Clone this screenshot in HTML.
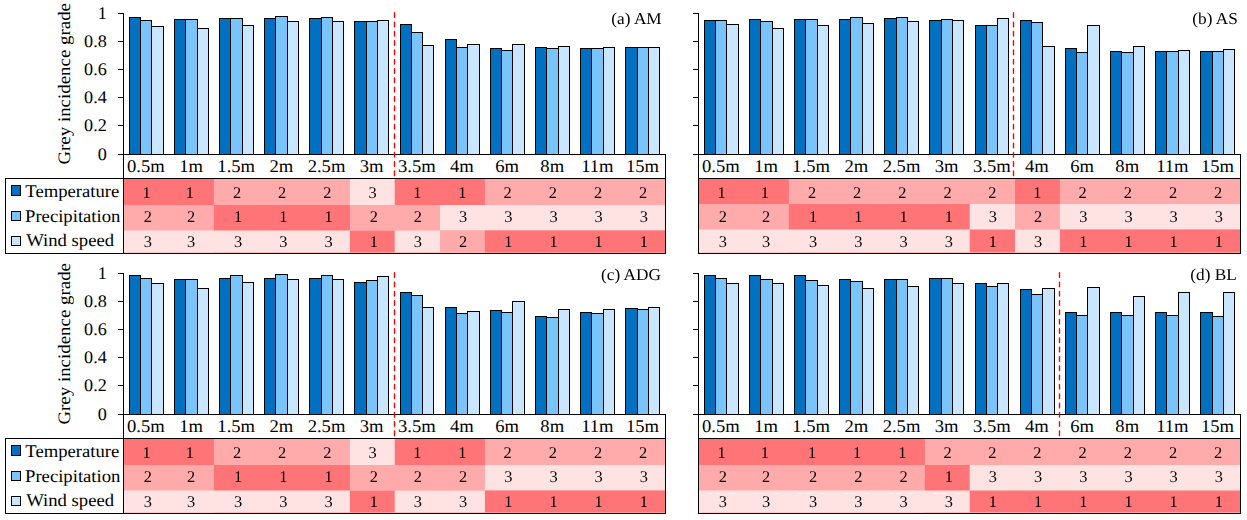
<!DOCTYPE html>
<html lang="en"><head><meta charset="utf-8"><title>Grey incidence grade</title>
<style>html,body{margin:0;padding:0;background:#fff}body{width:1247px;height:520px;overflow:hidden}svg{display:block}</style>
</head><body>
<svg width="1247" height="520" viewBox="0 0 1247 520">
<rect width="1247" height="520" fill="#fff"/>
<g transform="translate(0,0)">
<g>
<rect x="124" y="179" width="541.00" height="73.50" fill="#FF7577"/>
<rect x="213.9" y="179" width="451.10" height="73.50" fill="#FFAAAB"/>
<rect x="349.9" y="179" width="315.10" height="73.50" fill="#FFE3E3"/>
<rect x="394.7" y="179" width="270.30" height="73.50" fill="#FF7577"/>
<rect x="484.9" y="179" width="180.10" height="73.50" fill="#FFAAAB"/>
<rect x="124" y="205.0" width="541.00" height="47.50" fill="#FFAAAB"/>
<rect x="213.9" y="205.0" width="451.10" height="47.50" fill="#FF7577"/>
<rect x="349.9" y="205.0" width="315.10" height="47.50" fill="#FFAAAB"/>
<rect x="440.0" y="205.0" width="225.00" height="47.50" fill="#FFE3E3"/>
<rect x="124" y="230.5" width="541.00" height="22.00" fill="#FFE3E3"/>
<rect x="349.9" y="230.5" width="315.10" height="22.00" fill="#FF7577"/>
<rect x="394.7" y="230.5" width="270.30" height="22.00" fill="#FFE3E3"/>
<rect x="440.0" y="230.5" width="225.00" height="22.00" fill="#FFAAAB"/>
<rect x="484.9" y="230.5" width="180.10" height="22.00" fill="#FF7577"/>
</g>
<g stroke="#000" stroke-width="1" shape-rendering="crispEdges">
<rect x="129.5" y="17.5" width="11" height="137" fill="#0070C0"/>
<rect x="140.5" y="20.5" width="11" height="134" fill="#79C4FB"/>
<rect x="151.5" y="26.5" width="12" height="128" fill="#C8E6FF"/>
<rect x="174.5" y="19.5" width="11" height="135" fill="#0070C0"/>
<rect x="185.5" y="19.5" width="12" height="135" fill="#79C4FB"/>
<rect x="197.5" y="28.5" width="11" height="126" fill="#C8E6FF"/>
<rect x="219.5" y="18.5" width="11" height="136" fill="#0070C0"/>
<rect x="230.5" y="18.5" width="12" height="136" fill="#79C4FB"/>
<rect x="242.5" y="25.5" width="11" height="129" fill="#C8E6FF"/>
<rect x="264.5" y="18.5" width="11" height="136" fill="#0070C0"/>
<rect x="275.5" y="16.5" width="12" height="138" fill="#79C4FB"/>
<rect x="287.5" y="21.5" width="11" height="133" fill="#C8E6FF"/>
<rect x="309.5" y="18.5" width="12" height="136" fill="#0070C0"/>
<rect x="321.5" y="17.5" width="11" height="137" fill="#79C4FB"/>
<rect x="332.5" y="21.5" width="11" height="133" fill="#C8E6FF"/>
<rect x="354.5" y="21.5" width="12" height="133" fill="#0070C0"/>
<rect x="366.5" y="21.5" width="11" height="133" fill="#79C4FB"/>
<rect x="377.5" y="20.5" width="11" height="134" fill="#C8E6FF"/>
<rect x="400.5" y="24.5" width="11" height="130" fill="#0070C0"/>
<rect x="411.5" y="32.5" width="11" height="122" fill="#79C4FB"/>
<rect x="422.5" y="45.5" width="11" height="109" fill="#C8E6FF"/>
<rect x="445.5" y="39.5" width="11" height="115" fill="#0070C0"/>
<rect x="456.5" y="47.5" width="11" height="107" fill="#79C4FB"/>
<rect x="467.5" y="44.5" width="12" height="110" fill="#C8E6FF"/>
<rect x="490.5" y="48.5" width="11" height="106" fill="#0070C0"/>
<rect x="501.5" y="50.5" width="11" height="104" fill="#79C4FB"/>
<rect x="512.5" y="44.5" width="12" height="110" fill="#C8E6FF"/>
<rect x="535.5" y="47.5" width="11" height="107" fill="#0070C0"/>
<rect x="546.5" y="48.5" width="12" height="106" fill="#79C4FB"/>
<rect x="558.5" y="46.5" width="11" height="108" fill="#C8E6FF"/>
<rect x="580.5" y="48.5" width="11" height="106" fill="#0070C0"/>
<rect x="591.5" y="48.5" width="12" height="106" fill="#79C4FB"/>
<rect x="603.5" y="47.5" width="11" height="107" fill="#C8E6FF"/>
<rect x="625.5" y="47.5" width="12" height="107" fill="#0070C0"/>
<rect x="637.5" y="47.5" width="11" height="107" fill="#79C4FB"/>
<rect x="648.5" y="47.5" width="11" height="107" fill="#C8E6FF"/>
</g>
<g stroke="#000" stroke-width="1" fill="none" shape-rendering="crispEdges">
<path d="M123.5 13 V254"/>
<path d="M118 13.5 H124"/>
<path d="M118 41.5 H124"/>
<path d="M118 69.5 H124"/>
<path d="M118 97.5 H124"/>
<path d="M118 125.5 H124"/>
<path d="M118 154.5 H124"/>
<path d="M123 154.5 H666"/>
<path d="M665.5 154 V254"/>
<path d="M5 178.5 H666"/>
<path d="M5 253.5 H666"/>
<path d="M5.5 178 V254"/>
</g>
<path d="M394.50 12.8 V176" stroke="#FF0000" stroke-width="1.4" stroke-linecap="round" stroke-dasharray="4.6 4.71" fill="none"/>
<g font-family="'Liberation Serif','Times New Roman',serif" fill="#000" text-rendering="geometricPrecision">
<text transform="translate(106.80,19.10) scale(1.02,1)" font-size="17.8" text-anchor="end">1</text>
<text transform="translate(106.80,47.10) scale(1.02,1)" font-size="17.8" text-anchor="end">0.8</text>
<text transform="translate(106.80,75.10) scale(1.02,1)" font-size="17.8" text-anchor="end">0.6</text>
<text transform="translate(106.80,103.10) scale(1.02,1)" font-size="17.8" text-anchor="end">0.4</text>
<text transform="translate(106.80,131.10) scale(1.02,1)" font-size="17.8" text-anchor="end">0.2</text>
<text transform="translate(106.80,160.10) scale(1.02,1)" font-size="17.8" text-anchor="end">0</text>
<text transform="translate(69.90,83.80) rotate(-90) scale(1.08,1)" font-size="17.5" text-anchor="middle">Grey incidence grade</text>
<text transform="translate(25.30,196.80) scale(1.05,1)" font-size="17.8">Temperature</text>
<text transform="translate(25.00,222.00) scale(1.05,1)" font-size="17.8">Precipitation</text>
<text transform="translate(26.20,246.40) scale(1.05,1)" font-size="17.8">Wind speed</text>
<text transform="translate(145.92,171.80) scale(1.04,1)" font-size="17.9" text-anchor="middle">0.5m</text>
<text transform="translate(191.07,171.80) scale(1.04,1)" font-size="17.9" text-anchor="middle">1m</text>
<text transform="translate(236.21,171.80) scale(1.04,1)" font-size="17.9" text-anchor="middle">1.5m</text>
<text transform="translate(281.36,171.80) scale(1.04,1)" font-size="17.9" text-anchor="middle">2m</text>
<text transform="translate(326.50,171.80) scale(1.04,1)" font-size="17.9" text-anchor="middle">2.5m</text>
<text transform="translate(371.65,171.80) scale(1.04,1)" font-size="17.9" text-anchor="middle">3m</text>
<text transform="translate(416.79,171.80) scale(1.04,1)" font-size="17.9" text-anchor="middle">3.5m</text>
<text transform="translate(461.94,171.80) scale(1.04,1)" font-size="17.9" text-anchor="middle">4m</text>
<text transform="translate(507.08,171.80) scale(1.04,1)" font-size="17.9" text-anchor="middle">6m</text>
<text transform="translate(552.23,171.80) scale(1.04,1)" font-size="17.9" text-anchor="middle">8m</text>
<text transform="translate(597.37,171.80) scale(1.04,1)" font-size="17.9" text-anchor="middle">11m</text>
<text transform="translate(642.52,171.80) scale(1.04,1)" font-size="17.9" text-anchor="middle">15m</text>
<g opacity="0.999">
<text transform="translate(146.60,198.10)" font-size="16.4" text-anchor="middle">1</text>
<text transform="translate(189.89,198.10)" font-size="16.4" text-anchor="middle">1</text>
<text transform="translate(236.98,198.10)" font-size="16.4" text-anchor="middle">2</text>
<text transform="translate(282.17,198.10)" font-size="16.4" text-anchor="middle">2</text>
<text transform="translate(327.36,198.10)" font-size="16.4" text-anchor="middle">2</text>
<text transform="translate(372.55,198.10)" font-size="16.4" text-anchor="middle">3</text>
<text transform="translate(417.24,198.10)" font-size="16.4" text-anchor="middle">1</text>
<text transform="translate(462.43,198.10)" font-size="16.4" text-anchor="middle">1</text>
<text transform="translate(507.62,198.10)" font-size="16.4" text-anchor="middle">2</text>
<text transform="translate(552.81,198.10)" font-size="16.4" text-anchor="middle">2</text>
<text transform="translate(598.00,198.10)" font-size="16.4" text-anchor="middle">2</text>
<text transform="translate(643.19,198.10)" font-size="16.4" text-anchor="middle">2</text>
<text transform="translate(147.80,222.10)" font-size="16.4" text-anchor="middle">2</text>
<text transform="translate(191.09,222.10)" font-size="16.4" text-anchor="middle">2</text>
<text transform="translate(238.18,222.10)" font-size="16.4" text-anchor="middle">1</text>
<text transform="translate(283.37,222.10)" font-size="16.4" text-anchor="middle">1</text>
<text transform="translate(328.56,222.10)" font-size="16.4" text-anchor="middle">1</text>
<text transform="translate(373.75,222.10)" font-size="16.4" text-anchor="middle">2</text>
<text transform="translate(417.94,222.10)" font-size="16.4" text-anchor="middle">2</text>
<text transform="translate(463.13,222.10)" font-size="16.4" text-anchor="middle">3</text>
<text transform="translate(508.32,222.10)" font-size="16.4" text-anchor="middle">3</text>
<text transform="translate(553.51,222.10)" font-size="16.4" text-anchor="middle">3</text>
<text transform="translate(598.70,222.10)" font-size="16.4" text-anchor="middle">3</text>
<text transform="translate(643.89,222.10)" font-size="16.4" text-anchor="middle">3</text>
<text transform="translate(147.80,247.10)" font-size="16.4" text-anchor="middle">3</text>
<text transform="translate(191.09,247.10)" font-size="16.4" text-anchor="middle">3</text>
<text transform="translate(238.18,247.10)" font-size="16.4" text-anchor="middle">3</text>
<text transform="translate(283.37,247.10)" font-size="16.4" text-anchor="middle">3</text>
<text transform="translate(328.56,247.10)" font-size="16.4" text-anchor="middle">3</text>
<text transform="translate(373.75,247.10)" font-size="16.4" text-anchor="middle">1</text>
<text transform="translate(417.94,247.10)" font-size="16.4" text-anchor="middle">3</text>
<text transform="translate(463.13,247.10)" font-size="16.4" text-anchor="middle">2</text>
<text transform="translate(508.32,247.10)" font-size="16.4" text-anchor="middle">1</text>
<text transform="translate(553.51,247.10)" font-size="16.4" text-anchor="middle">1</text>
<text transform="translate(598.70,247.10)" font-size="16.4" text-anchor="middle">1</text>
<text transform="translate(643.89,247.10)" font-size="16.4" text-anchor="middle">1</text>
<text transform="translate(661.70,23.70) scale(1.04,1)" font-size="16.6" text-anchor="end">(a) AM</text>
</g>
</g>
<g stroke="#000" stroke-width="1" shape-rendering="crispEdges">
<rect x="11.5" y="185.5" width="9" height="10" fill="#0070C0"/>
<rect x="11.5" y="211.5" width="9" height="9" fill="#79C4FB"/>
<rect x="11.5" y="236.5" width="9" height="9" fill="#C8E6FF"/>
</g>
</g>
<g transform="translate(575,0)">
<g>
<rect x="124" y="179" width="541.00" height="73.50" fill="#FF7577"/>
<rect x="213.9" y="179" width="451.10" height="73.50" fill="#FFAAAB"/>
<rect x="440.0" y="179" width="225.00" height="73.50" fill="#FF7577"/>
<rect x="484.9" y="179" width="180.10" height="73.50" fill="#FFAAAB"/>
<rect x="124" y="204.0" width="541.00" height="48.50" fill="#FFAAAB"/>
<rect x="213.9" y="204.0" width="451.10" height="48.50" fill="#FF7577"/>
<rect x="394.7" y="204.0" width="270.30" height="48.50" fill="#FFE3E3"/>
<rect x="440.0" y="204.0" width="225.00" height="48.50" fill="#FFAAAB"/>
<rect x="484.9" y="204.0" width="180.10" height="48.50" fill="#FFE3E3"/>
<rect x="124" y="229.5" width="541.00" height="23.00" fill="#FFE3E3"/>
<rect x="394.7" y="229.5" width="270.30" height="23.00" fill="#FF7577"/>
<rect x="440.0" y="229.5" width="225.00" height="23.00" fill="#FFE3E3"/>
<rect x="484.9" y="229.5" width="180.10" height="23.00" fill="#FF7577"/>
</g>
<g stroke="#000" stroke-width="1" shape-rendering="crispEdges">
<rect x="129.5" y="20.5" width="11" height="134" fill="#0070C0"/>
<rect x="140.5" y="20.5" width="11" height="134" fill="#79C4FB"/>
<rect x="151.5" y="24.5" width="12" height="130" fill="#C8E6FF"/>
<rect x="174.5" y="19.5" width="11" height="135" fill="#0070C0"/>
<rect x="185.5" y="21.5" width="12" height="133" fill="#79C4FB"/>
<rect x="197.5" y="28.5" width="11" height="126" fill="#C8E6FF"/>
<rect x="219.5" y="19.5" width="11" height="135" fill="#0070C0"/>
<rect x="230.5" y="19.5" width="12" height="135" fill="#79C4FB"/>
<rect x="242.5" y="25.5" width="11" height="129" fill="#C8E6FF"/>
<rect x="264.5" y="19.5" width="11" height="135" fill="#0070C0"/>
<rect x="275.5" y="17.5" width="12" height="137" fill="#79C4FB"/>
<rect x="287.5" y="23.5" width="11" height="131" fill="#C8E6FF"/>
<rect x="309.5" y="18.5" width="12" height="136" fill="#0070C0"/>
<rect x="321.5" y="17.5" width="11" height="137" fill="#79C4FB"/>
<rect x="332.5" y="21.5" width="11" height="133" fill="#C8E6FF"/>
<rect x="354.5" y="20.5" width="12" height="134" fill="#0070C0"/>
<rect x="366.5" y="19.5" width="11" height="135" fill="#79C4FB"/>
<rect x="377.5" y="20.5" width="11" height="134" fill="#C8E6FF"/>
<rect x="400.5" y="25.5" width="11" height="129" fill="#0070C0"/>
<rect x="411.5" y="25.5" width="11" height="129" fill="#79C4FB"/>
<rect x="422.5" y="18.5" width="11" height="136" fill="#C8E6FF"/>
<rect x="445.5" y="20.5" width="11" height="134" fill="#0070C0"/>
<rect x="456.5" y="22.5" width="11" height="132" fill="#79C4FB"/>
<rect x="467.5" y="46.5" width="12" height="108" fill="#C8E6FF"/>
<rect x="490.5" y="48.5" width="11" height="106" fill="#0070C0"/>
<rect x="501.5" y="52.5" width="11" height="102" fill="#79C4FB"/>
<rect x="512.5" y="25.5" width="12" height="129" fill="#C8E6FF"/>
<rect x="535.5" y="51.5" width="11" height="103" fill="#0070C0"/>
<rect x="546.5" y="52.5" width="12" height="102" fill="#79C4FB"/>
<rect x="558.5" y="46.5" width="11" height="108" fill="#C8E6FF"/>
<rect x="580.5" y="51.5" width="11" height="103" fill="#0070C0"/>
<rect x="591.5" y="51.5" width="12" height="103" fill="#79C4FB"/>
<rect x="603.5" y="50.5" width="11" height="104" fill="#C8E6FF"/>
<rect x="625.5" y="51.5" width="12" height="103" fill="#0070C0"/>
<rect x="637.5" y="51.5" width="11" height="103" fill="#79C4FB"/>
<rect x="648.5" y="49.5" width="11" height="105" fill="#C8E6FF"/>
</g>
<g stroke="#000" stroke-width="1" fill="none" shape-rendering="crispEdges">
<path d="M123.5 13 V254"/>
<path d="M118 13.5 H124"/>
<path d="M118 41.5 H124"/>
<path d="M118 69.5 H124"/>
<path d="M118 97.5 H124"/>
<path d="M118 125.5 H124"/>
<path d="M118 154.5 H124"/>
<path d="M123 154.5 H666"/>
<path d="M665.5 154 V254"/>
<path d="M123 178.5 H666"/>
<path d="M123 253.5 H666"/>
</g>
<path d="M438.50 12.8 V176" stroke="#FF0000" stroke-width="1.4" stroke-linecap="round" stroke-dasharray="4.6 4.71" fill="none"/>
<g font-family="'Liberation Serif','Times New Roman',serif" fill="#000" text-rendering="geometricPrecision">
<text transform="translate(145.92,171.80) scale(1.04,1)" font-size="17.9" text-anchor="middle">0.5m</text>
<text transform="translate(191.07,171.80) scale(1.04,1)" font-size="17.9" text-anchor="middle">1m</text>
<text transform="translate(236.21,171.80) scale(1.04,1)" font-size="17.9" text-anchor="middle">1.5m</text>
<text transform="translate(281.36,171.80) scale(1.04,1)" font-size="17.9" text-anchor="middle">2m</text>
<text transform="translate(326.50,171.80) scale(1.04,1)" font-size="17.9" text-anchor="middle">2.5m</text>
<text transform="translate(371.65,171.80) scale(1.04,1)" font-size="17.9" text-anchor="middle">3m</text>
<text transform="translate(416.79,171.80) scale(1.04,1)" font-size="17.9" text-anchor="middle">3.5m</text>
<text transform="translate(461.94,171.80) scale(1.04,1)" font-size="17.9" text-anchor="middle">4m</text>
<text transform="translate(507.08,171.80) scale(1.04,1)" font-size="17.9" text-anchor="middle">6m</text>
<text transform="translate(552.23,171.80) scale(1.04,1)" font-size="17.9" text-anchor="middle">8m</text>
<text transform="translate(597.37,171.80) scale(1.04,1)" font-size="17.9" text-anchor="middle">11m</text>
<text transform="translate(642.52,171.80) scale(1.04,1)" font-size="17.9" text-anchor="middle">15m</text>
<g opacity="0.999">
<text transform="translate(146.60,198.10)" font-size="16.4" text-anchor="middle">1</text>
<text transform="translate(189.89,198.10)" font-size="16.4" text-anchor="middle">1</text>
<text transform="translate(236.98,198.10)" font-size="16.4" text-anchor="middle">2</text>
<text transform="translate(282.17,198.10)" font-size="16.4" text-anchor="middle">2</text>
<text transform="translate(327.36,198.10)" font-size="16.4" text-anchor="middle">2</text>
<text transform="translate(372.55,198.10)" font-size="16.4" text-anchor="middle">2</text>
<text transform="translate(417.24,198.10)" font-size="16.4" text-anchor="middle">2</text>
<text transform="translate(462.43,198.10)" font-size="16.4" text-anchor="middle">1</text>
<text transform="translate(507.62,198.10)" font-size="16.4" text-anchor="middle">2</text>
<text transform="translate(552.81,198.10)" font-size="16.4" text-anchor="middle">2</text>
<text transform="translate(598.00,198.10)" font-size="16.4" text-anchor="middle">2</text>
<text transform="translate(643.19,198.10)" font-size="16.4" text-anchor="middle">2</text>
<text transform="translate(147.80,222.10)" font-size="16.4" text-anchor="middle">2</text>
<text transform="translate(191.09,222.10)" font-size="16.4" text-anchor="middle">2</text>
<text transform="translate(238.18,222.10)" font-size="16.4" text-anchor="middle">1</text>
<text transform="translate(283.37,222.10)" font-size="16.4" text-anchor="middle">1</text>
<text transform="translate(328.56,222.10)" font-size="16.4" text-anchor="middle">1</text>
<text transform="translate(373.75,222.10)" font-size="16.4" text-anchor="middle">1</text>
<text transform="translate(417.94,222.10)" font-size="16.4" text-anchor="middle">3</text>
<text transform="translate(463.13,222.10)" font-size="16.4" text-anchor="middle">2</text>
<text transform="translate(508.32,222.10)" font-size="16.4" text-anchor="middle">3</text>
<text transform="translate(553.51,222.10)" font-size="16.4" text-anchor="middle">3</text>
<text transform="translate(598.70,222.10)" font-size="16.4" text-anchor="middle">3</text>
<text transform="translate(643.89,222.10)" font-size="16.4" text-anchor="middle">3</text>
<text transform="translate(147.80,247.10)" font-size="16.4" text-anchor="middle">3</text>
<text transform="translate(191.09,247.10)" font-size="16.4" text-anchor="middle">3</text>
<text transform="translate(238.18,247.10)" font-size="16.4" text-anchor="middle">3</text>
<text transform="translate(283.37,247.10)" font-size="16.4" text-anchor="middle">3</text>
<text transform="translate(328.56,247.10)" font-size="16.4" text-anchor="middle">3</text>
<text transform="translate(373.75,247.10)" font-size="16.4" text-anchor="middle">3</text>
<text transform="translate(417.94,247.10)" font-size="16.4" text-anchor="middle">1</text>
<text transform="translate(463.13,247.10)" font-size="16.4" text-anchor="middle">3</text>
<text transform="translate(508.32,247.10)" font-size="16.4" text-anchor="middle">1</text>
<text transform="translate(553.51,247.10)" font-size="16.4" text-anchor="middle">1</text>
<text transform="translate(598.70,247.10)" font-size="16.4" text-anchor="middle">1</text>
<text transform="translate(643.89,247.10)" font-size="16.4" text-anchor="middle">1</text>
<text transform="translate(662.80,23.70) scale(1.04,1)" font-size="16.6" text-anchor="end">(b) AS</text>
</g>
</g>
</g>
<g transform="translate(0,260)">
<g>
<rect x="124" y="179" width="541.00" height="73.50" fill="#FF7577"/>
<rect x="213.9" y="179" width="451.10" height="73.50" fill="#FFAAAB"/>
<rect x="349.9" y="179" width="315.10" height="73.50" fill="#FFE3E3"/>
<rect x="394.7" y="179" width="270.30" height="73.50" fill="#FF7577"/>
<rect x="484.9" y="179" width="180.10" height="73.50" fill="#FFAAAB"/>
<rect x="124" y="205.0" width="541.00" height="47.50" fill="#FFAAAB"/>
<rect x="213.9" y="205.0" width="451.10" height="47.50" fill="#FF7577"/>
<rect x="349.9" y="205.0" width="315.10" height="47.50" fill="#FFAAAB"/>
<rect x="484.9" y="205.0" width="180.10" height="47.50" fill="#FFE3E3"/>
<rect x="124" y="230.5" width="541.00" height="22.00" fill="#FFE3E3"/>
<rect x="349.9" y="230.5" width="315.10" height="22.00" fill="#FF7577"/>
<rect x="394.7" y="230.5" width="270.30" height="22.00" fill="#FFE3E3"/>
<rect x="484.9" y="230.5" width="180.10" height="22.00" fill="#FF7577"/>
</g>
<g stroke="#000" stroke-width="1" shape-rendering="crispEdges">
<rect x="129.5" y="15.5" width="11" height="139" fill="#0070C0"/>
<rect x="140.5" y="18.5" width="11" height="136" fill="#79C4FB"/>
<rect x="151.5" y="23.5" width="12" height="131" fill="#C8E6FF"/>
<rect x="174.5" y="19.5" width="11" height="135" fill="#0070C0"/>
<rect x="185.5" y="19.5" width="12" height="135" fill="#79C4FB"/>
<rect x="197.5" y="28.5" width="11" height="126" fill="#C8E6FF"/>
<rect x="219.5" y="18.5" width="11" height="136" fill="#0070C0"/>
<rect x="230.5" y="15.5" width="12" height="139" fill="#79C4FB"/>
<rect x="242.5" y="22.5" width="11" height="132" fill="#C8E6FF"/>
<rect x="264.5" y="18.5" width="11" height="136" fill="#0070C0"/>
<rect x="275.5" y="14.5" width="12" height="140" fill="#79C4FB"/>
<rect x="287.5" y="19.5" width="11" height="135" fill="#C8E6FF"/>
<rect x="309.5" y="18.5" width="12" height="136" fill="#0070C0"/>
<rect x="321.5" y="15.5" width="11" height="139" fill="#79C4FB"/>
<rect x="332.5" y="19.5" width="11" height="135" fill="#C8E6FF"/>
<rect x="354.5" y="22.5" width="12" height="132" fill="#0070C0"/>
<rect x="366.5" y="20.5" width="11" height="134" fill="#79C4FB"/>
<rect x="377.5" y="16.5" width="11" height="138" fill="#C8E6FF"/>
<rect x="400.5" y="32.5" width="11" height="122" fill="#0070C0"/>
<rect x="411.5" y="35.5" width="11" height="119" fill="#79C4FB"/>
<rect x="422.5" y="47.5" width="11" height="107" fill="#C8E6FF"/>
<rect x="445.5" y="47.5" width="11" height="107" fill="#0070C0"/>
<rect x="456.5" y="53.5" width="11" height="101" fill="#79C4FB"/>
<rect x="467.5" y="51.5" width="12" height="103" fill="#C8E6FF"/>
<rect x="490.5" y="50.5" width="11" height="104" fill="#0070C0"/>
<rect x="501.5" y="52.5" width="11" height="102" fill="#79C4FB"/>
<rect x="512.5" y="41.5" width="12" height="113" fill="#C8E6FF"/>
<rect x="535.5" y="56.5" width="11" height="98" fill="#0070C0"/>
<rect x="546.5" y="57.5" width="12" height="97" fill="#79C4FB"/>
<rect x="558.5" y="49.5" width="11" height="105" fill="#C8E6FF"/>
<rect x="580.5" y="52.5" width="11" height="102" fill="#0070C0"/>
<rect x="591.5" y="53.5" width="12" height="101" fill="#79C4FB"/>
<rect x="603.5" y="49.5" width="11" height="105" fill="#C8E6FF"/>
<rect x="625.5" y="48.5" width="12" height="106" fill="#0070C0"/>
<rect x="637.5" y="49.5" width="11" height="105" fill="#79C4FB"/>
<rect x="648.5" y="47.5" width="11" height="107" fill="#C8E6FF"/>
</g>
<g stroke="#000" stroke-width="1" fill="none" shape-rendering="crispEdges">
<path d="M123.5 13 V254"/>
<path d="M118 13.5 H124"/>
<path d="M118 41.5 H124"/>
<path d="M118 69.5 H124"/>
<path d="M118 97.5 H124"/>
<path d="M118 125.5 H124"/>
<path d="M118 154.5 H124"/>
<path d="M123 154.5 H666"/>
<path d="M665.5 154 V254"/>
<path d="M5 178.5 H666"/>
<path d="M5 253.5 H666"/>
<path d="M5.5 178 V254"/>
</g>
<path d="M394.50 12.8 V176" stroke="#FF0000" stroke-width="1.4" stroke-linecap="round" stroke-dasharray="4.6 4.71" fill="none"/>
<g font-family="'Liberation Serif','Times New Roman',serif" fill="#000" text-rendering="geometricPrecision">
<text transform="translate(106.80,19.10) scale(1.02,1)" font-size="17.8" text-anchor="end">1</text>
<text transform="translate(106.80,47.10) scale(1.02,1)" font-size="17.8" text-anchor="end">0.8</text>
<text transform="translate(106.80,75.10) scale(1.02,1)" font-size="17.8" text-anchor="end">0.6</text>
<text transform="translate(106.80,103.10) scale(1.02,1)" font-size="17.8" text-anchor="end">0.4</text>
<text transform="translate(106.80,131.10) scale(1.02,1)" font-size="17.8" text-anchor="end">0.2</text>
<text transform="translate(106.80,160.10) scale(1.02,1)" font-size="17.8" text-anchor="end">0</text>
<text transform="translate(69.90,83.80) rotate(-90) scale(1.08,1)" font-size="17.5" text-anchor="middle">Grey incidence grade</text>
<text transform="translate(25.30,196.80) scale(1.05,1)" font-size="17.8">Temperature</text>
<text transform="translate(25.00,222.00) scale(1.05,1)" font-size="17.8">Precipitation</text>
<text transform="translate(26.20,246.40) scale(1.05,1)" font-size="17.8">Wind speed</text>
<text transform="translate(145.92,171.80) scale(1.04,1)" font-size="17.9" text-anchor="middle">0.5m</text>
<text transform="translate(191.07,171.80) scale(1.04,1)" font-size="17.9" text-anchor="middle">1m</text>
<text transform="translate(236.21,171.80) scale(1.04,1)" font-size="17.9" text-anchor="middle">1.5m</text>
<text transform="translate(281.36,171.80) scale(1.04,1)" font-size="17.9" text-anchor="middle">2m</text>
<text transform="translate(326.50,171.80) scale(1.04,1)" font-size="17.9" text-anchor="middle">2.5m</text>
<text transform="translate(371.65,171.80) scale(1.04,1)" font-size="17.9" text-anchor="middle">3m</text>
<text transform="translate(416.79,171.80) scale(1.04,1)" font-size="17.9" text-anchor="middle">3.5m</text>
<text transform="translate(461.94,171.80) scale(1.04,1)" font-size="17.9" text-anchor="middle">4m</text>
<text transform="translate(507.08,171.80) scale(1.04,1)" font-size="17.9" text-anchor="middle">6m</text>
<text transform="translate(552.23,171.80) scale(1.04,1)" font-size="17.9" text-anchor="middle">8m</text>
<text transform="translate(597.37,171.80) scale(1.04,1)" font-size="17.9" text-anchor="middle">11m</text>
<text transform="translate(642.52,171.80) scale(1.04,1)" font-size="17.9" text-anchor="middle">15m</text>
<g opacity="0.999">
<text transform="translate(146.60,198.10)" font-size="16.4" text-anchor="middle">1</text>
<text transform="translate(189.89,198.10)" font-size="16.4" text-anchor="middle">1</text>
<text transform="translate(236.98,198.10)" font-size="16.4" text-anchor="middle">2</text>
<text transform="translate(282.17,198.10)" font-size="16.4" text-anchor="middle">2</text>
<text transform="translate(327.36,198.10)" font-size="16.4" text-anchor="middle">2</text>
<text transform="translate(372.55,198.10)" font-size="16.4" text-anchor="middle">3</text>
<text transform="translate(417.24,198.10)" font-size="16.4" text-anchor="middle">1</text>
<text transform="translate(462.43,198.10)" font-size="16.4" text-anchor="middle">1</text>
<text transform="translate(507.62,198.10)" font-size="16.4" text-anchor="middle">2</text>
<text transform="translate(552.81,198.10)" font-size="16.4" text-anchor="middle">2</text>
<text transform="translate(598.00,198.10)" font-size="16.4" text-anchor="middle">2</text>
<text transform="translate(643.19,198.10)" font-size="16.4" text-anchor="middle">2</text>
<text transform="translate(147.80,222.10)" font-size="16.4" text-anchor="middle">2</text>
<text transform="translate(191.09,222.10)" font-size="16.4" text-anchor="middle">2</text>
<text transform="translate(238.18,222.10)" font-size="16.4" text-anchor="middle">1</text>
<text transform="translate(283.37,222.10)" font-size="16.4" text-anchor="middle">1</text>
<text transform="translate(328.56,222.10)" font-size="16.4" text-anchor="middle">1</text>
<text transform="translate(373.75,222.10)" font-size="16.4" text-anchor="middle">2</text>
<text transform="translate(417.94,222.10)" font-size="16.4" text-anchor="middle">2</text>
<text transform="translate(463.13,222.10)" font-size="16.4" text-anchor="middle">2</text>
<text transform="translate(508.32,222.10)" font-size="16.4" text-anchor="middle">3</text>
<text transform="translate(553.51,222.10)" font-size="16.4" text-anchor="middle">3</text>
<text transform="translate(598.70,222.10)" font-size="16.4" text-anchor="middle">3</text>
<text transform="translate(643.89,222.10)" font-size="16.4" text-anchor="middle">3</text>
<text transform="translate(147.80,247.10)" font-size="16.4" text-anchor="middle">3</text>
<text transform="translate(191.09,247.10)" font-size="16.4" text-anchor="middle">3</text>
<text transform="translate(238.18,247.10)" font-size="16.4" text-anchor="middle">3</text>
<text transform="translate(283.37,247.10)" font-size="16.4" text-anchor="middle">3</text>
<text transform="translate(328.56,247.10)" font-size="16.4" text-anchor="middle">3</text>
<text transform="translate(373.75,247.10)" font-size="16.4" text-anchor="middle">1</text>
<text transform="translate(417.94,247.10)" font-size="16.4" text-anchor="middle">3</text>
<text transform="translate(463.13,247.10)" font-size="16.4" text-anchor="middle">3</text>
<text transform="translate(508.32,247.10)" font-size="16.4" text-anchor="middle">1</text>
<text transform="translate(553.51,247.10)" font-size="16.4" text-anchor="middle">1</text>
<text transform="translate(598.70,247.10)" font-size="16.4" text-anchor="middle">1</text>
<text transform="translate(643.89,247.10)" font-size="16.4" text-anchor="middle">1</text>
<text transform="translate(661.00,19.70) scale(1.04,1)" font-size="16.6" text-anchor="end">(c) ADG</text>
</g>
</g>
<g stroke="#000" stroke-width="1" shape-rendering="crispEdges">
<rect x="11.5" y="185.5" width="9" height="10" fill="#0070C0"/>
<rect x="11.5" y="211.5" width="9" height="9" fill="#79C4FB"/>
<rect x="11.5" y="236.5" width="9" height="9" fill="#C8E6FF"/>
</g>
</g>
<g transform="translate(575,260)">
<g>
<rect x="124" y="179" width="541.00" height="73.50" fill="#FF7577"/>
<rect x="349.9" y="179" width="315.10" height="73.50" fill="#FFAAAB"/>
<rect x="124" y="205.0" width="541.00" height="47.50" fill="#FFAAAB"/>
<rect x="349.9" y="205.0" width="315.10" height="47.50" fill="#FF7577"/>
<rect x="394.7" y="205.0" width="270.30" height="47.50" fill="#FFE3E3"/>
<rect x="124" y="230.5" width="541.00" height="22.00" fill="#FFE3E3"/>
<rect x="394.7" y="230.5" width="270.30" height="22.00" fill="#FF7577"/>
</g>
<g fill="#fff" opacity="0.6">
<rect x="133.0" y="233" width="4.5" height="1"/>
<rect x="140.8" y="233" width="4.5" height="1"/>
<rect x="154.3" y="233" width="4.5" height="1"/>
<rect x="178.2" y="233" width="4.5" height="1"/>
<rect x="186.0" y="233" width="4.5" height="1"/>
<rect x="199.5" y="233" width="4.5" height="1"/>
<rect x="223.3" y="233" width="4.5" height="1"/>
<rect x="231.1" y="233" width="4.5" height="1"/>
<rect x="244.6" y="233" width="4.5" height="1"/>
<rect x="268.5" y="233" width="4.5" height="1"/>
<rect x="276.3" y="233" width="4.5" height="1"/>
<rect x="289.8" y="233" width="4.5" height="1"/>
<rect x="313.7" y="233" width="4.5" height="1"/>
<rect x="321.5" y="233" width="4.5" height="1"/>
<rect x="335.0" y="233" width="4.5" height="1"/>
<rect x="358.9" y="233" width="4.5" height="1"/>
<rect x="366.7" y="233" width="4.5" height="1"/>
<rect x="380.2" y="233" width="4.5" height="1"/>
</g>
<g stroke="#000" stroke-width="1" shape-rendering="crispEdges">
<rect x="129.5" y="15.5" width="11" height="139" fill="#0070C0"/>
<rect x="140.5" y="18.5" width="11" height="136" fill="#79C4FB"/>
<rect x="151.5" y="23.5" width="12" height="131" fill="#C8E6FF"/>
<rect x="174.5" y="15.5" width="11" height="139" fill="#0070C0"/>
<rect x="185.5" y="19.5" width="12" height="135" fill="#79C4FB"/>
<rect x="197.5" y="23.5" width="11" height="131" fill="#C8E6FF"/>
<rect x="219.5" y="15.5" width="11" height="139" fill="#0070C0"/>
<rect x="230.5" y="20.5" width="12" height="134" fill="#79C4FB"/>
<rect x="242.5" y="25.5" width="11" height="129" fill="#C8E6FF"/>
<rect x="264.5" y="19.5" width="11" height="135" fill="#0070C0"/>
<rect x="275.5" y="21.5" width="12" height="133" fill="#79C4FB"/>
<rect x="287.5" y="28.5" width="11" height="126" fill="#C8E6FF"/>
<rect x="309.5" y="19.5" width="12" height="135" fill="#0070C0"/>
<rect x="321.5" y="19.5" width="11" height="135" fill="#79C4FB"/>
<rect x="332.5" y="26.5" width="11" height="128" fill="#C8E6FF"/>
<rect x="354.5" y="18.5" width="12" height="136" fill="#0070C0"/>
<rect x="366.5" y="18.5" width="11" height="136" fill="#79C4FB"/>
<rect x="377.5" y="23.5" width="11" height="131" fill="#C8E6FF"/>
<rect x="400.5" y="23.5" width="11" height="131" fill="#0070C0"/>
<rect x="411.5" y="26.5" width="11" height="128" fill="#79C4FB"/>
<rect x="422.5" y="23.5" width="11" height="131" fill="#C8E6FF"/>
<rect x="445.5" y="29.5" width="11" height="125" fill="#0070C0"/>
<rect x="456.5" y="34.5" width="11" height="120" fill="#79C4FB"/>
<rect x="467.5" y="28.5" width="12" height="126" fill="#C8E6FF"/>
<rect x="490.5" y="52.5" width="11" height="102" fill="#0070C0"/>
<rect x="501.5" y="55.5" width="11" height="99" fill="#79C4FB"/>
<rect x="512.5" y="27.5" width="12" height="127" fill="#C8E6FF"/>
<rect x="535.5" y="52.5" width="11" height="102" fill="#0070C0"/>
<rect x="546.5" y="55.5" width="12" height="99" fill="#79C4FB"/>
<rect x="558.5" y="36.5" width="11" height="118" fill="#C8E6FF"/>
<rect x="580.5" y="52.5" width="11" height="102" fill="#0070C0"/>
<rect x="591.5" y="55.5" width="12" height="99" fill="#79C4FB"/>
<rect x="603.5" y="32.5" width="11" height="122" fill="#C8E6FF"/>
<rect x="625.5" y="52.5" width="12" height="102" fill="#0070C0"/>
<rect x="637.5" y="56.5" width="11" height="98" fill="#79C4FB"/>
<rect x="648.5" y="32.5" width="11" height="122" fill="#C8E6FF"/>
</g>
<g stroke="#000" stroke-width="1" fill="none" shape-rendering="crispEdges">
<path d="M123.5 13 V254"/>
<path d="M118 13.5 H124"/>
<path d="M118 41.5 H124"/>
<path d="M118 69.5 H124"/>
<path d="M118 97.5 H124"/>
<path d="M118 125.5 H124"/>
<path d="M118 154.5 H124"/>
<path d="M123 154.5 H666"/>
<path d="M665.5 154 V254"/>
<path d="M123 178.5 H666"/>
<path d="M123 253.5 H666"/>
</g>
<path d="M484.50 12.8 V176" stroke="#FF0000" stroke-width="1.4" stroke-linecap="round" stroke-dasharray="4.6 4.71" fill="none"/>
<g font-family="'Liberation Serif','Times New Roman',serif" fill="#000" text-rendering="geometricPrecision">
<text transform="translate(145.92,171.80) scale(1.04,1)" font-size="17.9" text-anchor="middle">0.5m</text>
<text transform="translate(191.07,171.80) scale(1.04,1)" font-size="17.9" text-anchor="middle">1m</text>
<text transform="translate(236.21,171.80) scale(1.04,1)" font-size="17.9" text-anchor="middle">1.5m</text>
<text transform="translate(281.36,171.80) scale(1.04,1)" font-size="17.9" text-anchor="middle">2m</text>
<text transform="translate(326.50,171.80) scale(1.04,1)" font-size="17.9" text-anchor="middle">2.5m</text>
<text transform="translate(371.65,171.80) scale(1.04,1)" font-size="17.9" text-anchor="middle">3m</text>
<text transform="translate(416.79,171.80) scale(1.04,1)" font-size="17.9" text-anchor="middle">3.5m</text>
<text transform="translate(461.94,171.80) scale(1.04,1)" font-size="17.9" text-anchor="middle">4m</text>
<text transform="translate(507.08,171.80) scale(1.04,1)" font-size="17.9" text-anchor="middle">6m</text>
<text transform="translate(552.23,171.80) scale(1.04,1)" font-size="17.9" text-anchor="middle">8m</text>
<text transform="translate(597.37,171.80) scale(1.04,1)" font-size="17.9" text-anchor="middle">11m</text>
<text transform="translate(642.52,171.80) scale(1.04,1)" font-size="17.9" text-anchor="middle">15m</text>
<g opacity="0.999">
<text transform="translate(146.60,198.10)" font-size="16.4" text-anchor="middle">1</text>
<text transform="translate(189.89,198.10)" font-size="16.4" text-anchor="middle">1</text>
<text transform="translate(236.98,198.10)" font-size="16.4" text-anchor="middle">1</text>
<text transform="translate(282.17,198.10)" font-size="16.4" text-anchor="middle">1</text>
<text transform="translate(327.36,198.10)" font-size="16.4" text-anchor="middle">1</text>
<text transform="translate(372.55,198.10)" font-size="16.4" text-anchor="middle">2</text>
<text transform="translate(417.24,198.10)" font-size="16.4" text-anchor="middle">2</text>
<text transform="translate(462.43,198.10)" font-size="16.4" text-anchor="middle">2</text>
<text transform="translate(507.62,198.10)" font-size="16.4" text-anchor="middle">2</text>
<text transform="translate(552.81,198.10)" font-size="16.4" text-anchor="middle">2</text>
<text transform="translate(598.00,198.10)" font-size="16.4" text-anchor="middle">2</text>
<text transform="translate(643.19,198.10)" font-size="16.4" text-anchor="middle">2</text>
<text transform="translate(147.80,222.10)" font-size="16.4" text-anchor="middle">2</text>
<text transform="translate(191.09,222.10)" font-size="16.4" text-anchor="middle">2</text>
<text transform="translate(238.18,222.10)" font-size="16.4" text-anchor="middle">2</text>
<text transform="translate(283.37,222.10)" font-size="16.4" text-anchor="middle">2</text>
<text transform="translate(328.56,222.10)" font-size="16.4" text-anchor="middle">2</text>
<text transform="translate(373.75,222.10)" font-size="16.4" text-anchor="middle">1</text>
<text transform="translate(417.94,222.10)" font-size="16.4" text-anchor="middle">3</text>
<text transform="translate(463.13,222.10)" font-size="16.4" text-anchor="middle">3</text>
<text transform="translate(508.32,222.10)" font-size="16.4" text-anchor="middle">3</text>
<text transform="translate(553.51,222.10)" font-size="16.4" text-anchor="middle">3</text>
<text transform="translate(598.70,222.10)" font-size="16.4" text-anchor="middle">3</text>
<text transform="translate(643.89,222.10)" font-size="16.4" text-anchor="middle">3</text>
<text transform="translate(147.80,247.10)" font-size="16.4" text-anchor="middle">3</text>
<text transform="translate(191.09,247.10)" font-size="16.4" text-anchor="middle">3</text>
<text transform="translate(238.18,247.10)" font-size="16.4" text-anchor="middle">3</text>
<text transform="translate(283.37,247.10)" font-size="16.4" text-anchor="middle">3</text>
<text transform="translate(328.56,247.10)" font-size="16.4" text-anchor="middle">3</text>
<text transform="translate(373.75,247.10)" font-size="16.4" text-anchor="middle">3</text>
<text transform="translate(417.94,247.10)" font-size="16.4" text-anchor="middle">1</text>
<text transform="translate(463.13,247.10)" font-size="16.4" text-anchor="middle">1</text>
<text transform="translate(508.32,247.10)" font-size="16.4" text-anchor="middle">1</text>
<text transform="translate(553.51,247.10)" font-size="16.4" text-anchor="middle">1</text>
<text transform="translate(598.70,247.10)" font-size="16.4" text-anchor="middle">1</text>
<text transform="translate(643.89,247.10)" font-size="16.4" text-anchor="middle">1</text>
<text transform="translate(661.80,19.70) scale(1.04,1)" font-size="16.6" text-anchor="end">(d) BL</text>
</g>
</g>
</g>
</svg>
</body></html>
